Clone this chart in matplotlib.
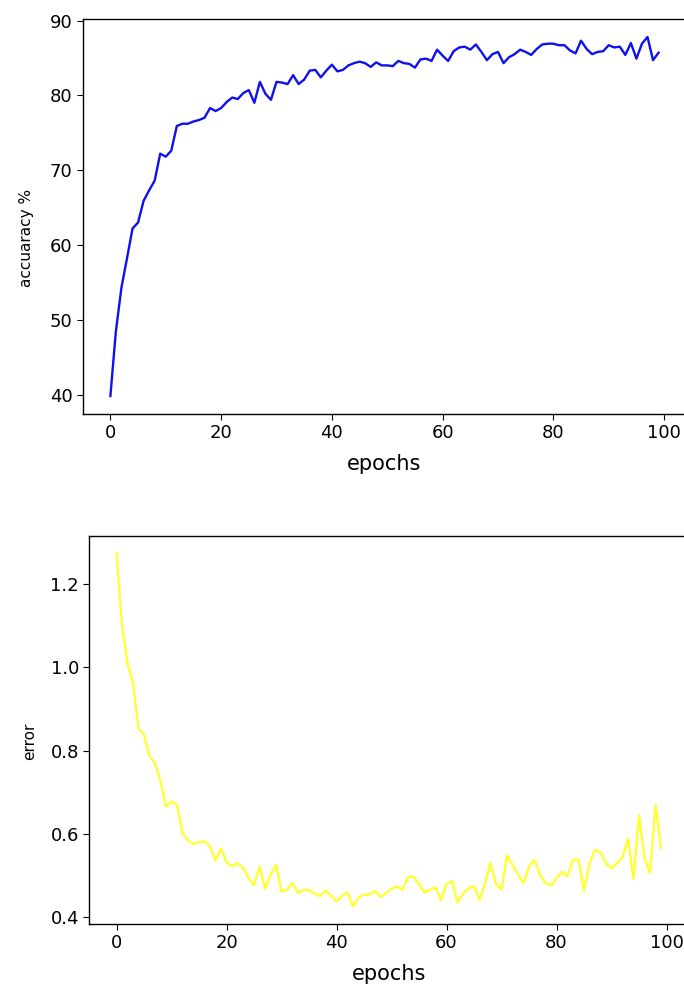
import numpy as np
import matplotlib
matplotlib.use('Agg')
import matplotlib.pyplot as plt

# per-epoch test accuracy (%) and test loss from the training run
accuracy = [
    39.8, 48.5, 54.3, 58.2, 62.2, 63.0, 65.9, 67.3, 68.6, 72.2,
    71.8, 72.6, 75.9, 76.2, 76.2, 76.5, 76.7, 77.0, 78.3, 77.9,
    78.3, 79.1, 79.7, 79.5, 80.3, 80.7, 79.0, 81.8, 80.2, 79.4,
    81.8, 81.7, 81.5, 82.7, 81.5, 82.1, 83.3, 83.4, 82.4, 83.3,
    84.1, 83.2, 83.4, 84.0, 84.3, 84.5, 84.3, 83.8, 84.4, 84.0,
    84.0, 83.9, 84.6, 84.3, 84.2, 83.7, 84.8, 84.9, 84.6, 86.1,
    85.3, 84.6, 85.9, 86.4, 86.5, 86.1, 86.8, 85.8, 84.7, 85.5,
    85.8, 84.3, 85.1, 85.5, 86.1, 85.8, 85.4, 86.2, 86.8, 86.9,
    86.9, 86.7, 86.7, 86.0, 85.6, 87.3, 86.2, 85.5, 85.8, 85.9,
    86.7, 86.4, 86.5, 85.4, 87.0, 84.9, 86.9, 87.8, 84.7, 85.7,
]

error = [
    1.273, 1.101, 1.009, 0.961, 0.853, 0.838, 0.786, 0.770, 0.726, 0.666,
    0.678, 0.670, 0.602, 0.584, 0.576, 0.580, 0.582, 0.570, 0.536, 0.565,
    0.532, 0.522, 0.530, 0.518, 0.494, 0.477, 0.522, 0.469, 0.502, 0.526,
    0.461, 0.466, 0.482, 0.458, 0.466, 0.465, 0.457, 0.451, 0.464, 0.452,
    0.438, 0.451, 0.460, 0.426, 0.447, 0.454, 0.455, 0.463, 0.448, 0.458,
    0.468, 0.474, 0.466, 0.497, 0.497, 0.479, 0.459, 0.466, 0.472, 0.441,
    0.480, 0.487, 0.435, 0.457, 0.469, 0.475, 0.441, 0.482, 0.530, 0.479,
    0.466, 0.549, 0.526, 0.502, 0.482, 0.522, 0.538, 0.502, 0.482, 0.476,
    0.494, 0.509, 0.498, 0.538, 0.538, 0.464, 0.530, 0.562, 0.555, 0.529,
    0.518, 0.530, 0.544, 0.589, 0.492, 0.644, 0.542, 0.506, 0.670, 0.566,
]

epochs = np.arange(len(accuracy))

plt.rcParams['font.family'] = 'DejaVu Sans'
plt.rcParams['xtick.labelsize'] = 13
plt.rcParams['ytick.labelsize'] = 13
plt.rcParams['axes.linewidth'] = 1.0
plt.rcParams['xtick.major.size'] = 4
plt.rcParams['ytick.major.size'] = 4

fig = plt.figure(figsize=(6.84, 9.85), dpi=100)

ax1 = fig.add_axes([0.1213, 0.5797, 0.8816, 0.4010])
ax1.plot(epochs, accuracy, color='#1010ee', linewidth=1.7)
ax1.set_xlabel('epochs', fontsize=15, labelpad=8)
ax1.set_ylabel('accuaracy %', fontsize=11)
ax1.yaxis.set_label_coords(-0.081, 0.446)

ax2 = fig.add_axes([0.1306, 0.0619, 0.8756, 0.3939])
ax2.plot(epochs, error, color='#ffff33', linewidth=1.7)
ax2.set_xlabel('epochs', fontsize=15, labelpad=8)
ax2.set_ylabel('error', fontsize=11)
ax2.yaxis.set_label_coords(-0.087, 0.472)

for ax in (ax1, ax2):
    ax.set_xticks([0, 20, 40, 60, 80, 100])

fig.savefig('out.png', dpi=100)
